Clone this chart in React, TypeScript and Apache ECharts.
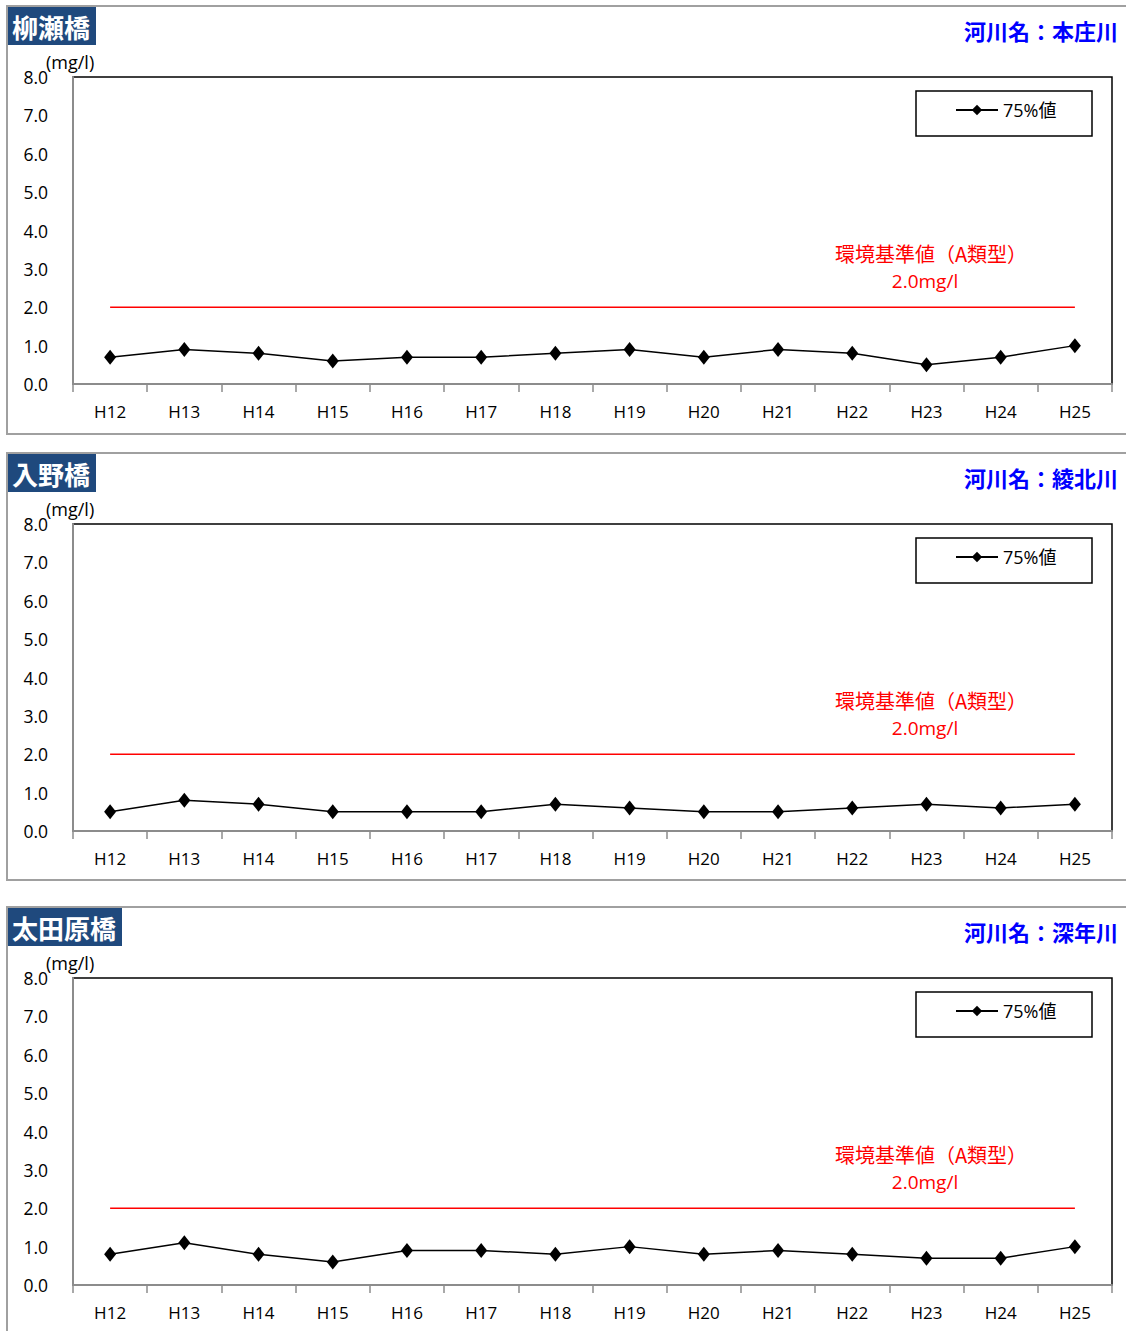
import React, { useEffect, useRef } from "react";
import * as echarts from "echarts";

const categories = ["H12", "H13", "H14", "H15", "H16", "H17", "H18", "H19", "H20", "H21", "H22", "H23", "H24", "H25"];
const stations = ["柳瀬橋", "入野橋", "太田原橋"];
const rivers = ["河川名：本庄川", "河川名：綾北川", "河川名：深年川"];
const yanaseValues = [0.7, 0.9, 0.8, 0.6, 0.7, 0.7, 0.8, 0.9, 0.7, 0.9, 0.8, 0.5, 0.7, 1.0];
const irinoValues = [0.5, 0.8, 0.7, 0.5, 0.5, 0.5, 0.7, 0.6, 0.5, 0.5, 0.6, 0.7, 0.6, 0.7];
const otaharaValues = [0.8, 1.1, 0.8, 0.6, 0.9, 0.9, 0.8, 1.0, 0.8, 0.9, 0.8, 0.7, 0.7, 1.0];
const standardValue = 2.0;
const seriesName = "75%値";
const standardLabel1 = "環境基準値（A類型）";
const standardLabel2 = "2.0mg/l";
const unitLabel = "(mg/l)";

const FONT = "'Open Sans', 'Noto Sans CJK JP', sans-serif";
const CJK = "'Noto Sans CJK JP', sans-serif";

export default function App() {
  const ref = useRef<HTMLDivElement>(null);
  useEffect(() => {
    if (!ref.current) return;
    const chart = echarts.init(ref.current, null, { renderer: "svg" });
    const allValues = [yanaseValues, irinoValues, otaharaValues];
    const offsets = [0, 447, 901];
    const titleWidths = [88, 88, 114];
    const frameBottoms = [434, 880, 1340];

    const grids: any[] = [];
    const xAxes: any[] = [];
    const yAxes: any[] = [];
    const series: any[] = [];
    const legends: any[] = [];
    const graphics: any[] = [];

    allValues.forEach((vals, i) => {
      const o = offsets[i];
      grids.push({
        left: 73,
        top: 77 + o,
        width: 1039,
        height: 307,
        show: true,
        borderColor: "#000",
        borderWidth: 1.5,
        backgroundColor: "transparent",
      });
      xAxes.push({
        type: "category",
        gridIndex: i,
        data: categories,
        boundaryGap: true,
        axisLine: { show: true, lineStyle: { color: "#8c8c8c", width: 2 } },
        axisTick: { show: true, length: 8, lineStyle: { color: "#8c8c8c", width: 1.5 } },
        axisLabel: { color: "#000", fontSize: 17, fontFamily: FONT, margin: 19 },
        splitLine: { show: false },
      });
      yAxes.push({
        type: "value",
        gridIndex: i,
        min: 0,
        max: 8,
        interval: 1,
        axisLine: { show: true, lineStyle: { color: "#8c8c8c", width: 2 } },
        axisTick: { show: false },
        axisLabel: {
          color: "#000",
          fontSize: 17.5,
          fontFamily: FONT,
          margin: 25,
          formatter: (v: number) => v.toFixed(1),
        },
        splitLine: { show: false },
      });
      series.push({
        name: "standard" + i,
        type: "line",
        xAxisIndex: i,
        yAxisIndex: i,
        data: categories.map(() => standardValue),
        symbol: "none",
        lineStyle: { color: "#ff0000", width: 1.5 },
        itemStyle: { color: "#ff0000" },
        silent: true,
        z: 2,
      });
      series.push({
        name: seriesName,
        type: "line",
        xAxisIndex: i,
        yAxisIndex: i,
        data: vals,
        symbol: "diamond",
        symbolSize: [12, 15],
        lineStyle: { color: "#000", width: 1.5 },
        itemStyle: { color: "#000" },
        z: 3,
      });
      legends.push({
        data: [seriesName],
        left: 955,
        top: 101 + o,
        itemWidth: 42,
        itemHeight: 13,
        itemGap: 5,
        padding: 0,
        selectedMode: false,
        textStyle: { color: "#000", fontSize: 18, fontFamily: FONT },
      });

      graphics.push({
        type: "polyline",
        shape: { points: [[1130, 6 + o], [7, 6 + o], [7, frameBottoms[i]], [1130, frameBottoms[i]]] },
        style: { stroke: "#a0a0a0", lineWidth: 2, fill: "none" },
        z: 1,
      });
      graphics.push({
        type: "rect",
        shape: { x: 8, y: 7 + o, width: titleWidths[i], height: 38 },
        style: { fill: "#1f497d" },
        z: 2,
      });
      graphics.push({
        type: "text",
        x: 12,
        y: 26 + o,
        style: {
          text: stations[i],
          fill: "#fff",
          fontSize: 26,
          fontWeight: "bold",
          fontFamily: CJK,
          verticalAlign: "middle",
          align: "left",
        },
        z: 3,
      });
      graphics.push({
        type: "text",
        x: 1118,
        y: 30 + o,
        style: {
          text: rivers[i],
          fill: "#0000ff",
          fontSize: 22,
          fontWeight: "bold",
          fontFamily: CJK,
          verticalAlign: "middle",
          align: "right",
        },
        z: 3,
      });
      graphics.push({
        type: "text",
        x: 46,
        y: 62 + o,
        style: {
          text: unitLabel,
          fill: "#000",
          fontSize: 18,
          fontFamily: FONT,
          verticalAlign: "middle",
          align: "left",
        },
        z: 3,
      });
      graphics.push({
        type: "text",
        x: 931,
        y: 253 + o,
        style: {
          text: standardLabel1,
          fill: "#ff0000",
          fontSize: 20,
          fontFamily: CJK,
          verticalAlign: "middle",
          align: "center",
        },
        z: 3,
      });
      graphics.push({
        type: "text",
        x: 925,
        y: 281 + o,
        style: {
          text: standardLabel2,
          fill: "#ff0000",
          fontSize: 19,
          fontFamily: FONT,
          verticalAlign: "middle",
          align: "center",
        },
        z: 3,
      });
      graphics.push({
        type: "rect",
        shape: { x: 916, y: 91 + o, width: 176, height: 45 },
        style: { fill: "#fff", stroke: "#000", lineWidth: 1.5 },
        z: 0,
      });
    });

    chart.setOption({
      animation: false,
      backgroundColor: "#fff",
      grid: grids,
      xAxis: xAxes,
      yAxis: yAxes,
      series,
      legend: legends,
      graphic: graphics,
    });
    return () => chart.dispose();
  }, []);
  return (
    <div
      ref={ref}
      style={{ position: "absolute", left: 0, top: 0, width: 1126, height: 1331 }}
    />
  );
}
